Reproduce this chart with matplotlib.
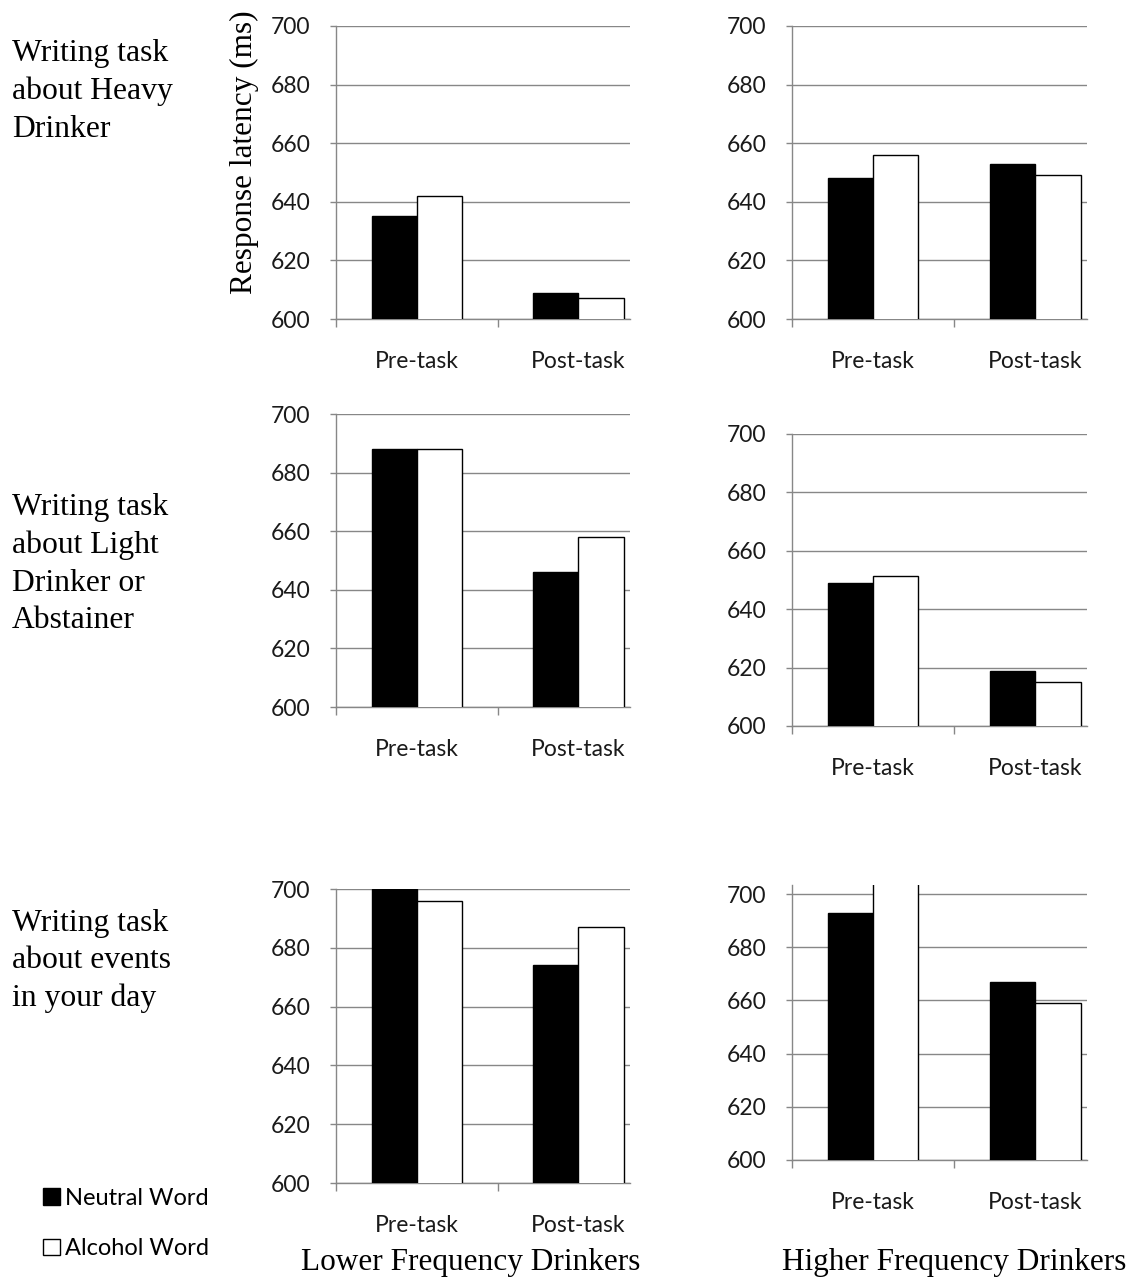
import matplotlib.pyplot as plt
import numpy as np

W, H = 1138, 1277

tasks = ["Pre-task", "Post-task"]
row_labels = [
    "Writing task\nabout Heavy\nDrinker",
    "Writing task\nabout Light\nDrinker or\nAbstainer",
    "Writing task\nabout events\nin your day",
]
yticks = [600, 620, 640, 660, 680, 700]

# rows: heavy drinker, light drinker / abstainer, events in your day
lower_neutral = [[635, 609], [688, 646], [700, 674]]
lower_alcohol = [[642, 607], [688, 658], [696, 687]]
higher_neutral = [[648, 653], [649, 619], [693, 667]]
higher_alcohol = [[656, 649], [651.5, 615], [712, 659]]

grey = "#878787"
sans = "Lato"
serif = "Liberation Serif"

fig = plt.figure(figsize=(W / 100, H / 100), dpi=100)


def add_panel(left, top, bottom, right, neutral, alcohol, ymax=700):
    ax = fig.add_axes([left / W, 1 - bottom / H, (right - left) / W, (bottom - top) / H])
    x = np.arange(len(tasks))
    b1 = ax.bar(x - 0.14, neutral, 0.28, color="black", edgecolor="black",
                linewidth=1.0, zorder=3)
    b2 = ax.bar(x + 0.14, alcohol, 0.28, color="white", edgecolor="black",
                linewidth=1.0, zorder=3)
    ax.set_ylim(600, ymax)
    ax.set_xlim(-0.5, 1.32)
    ax.set_yticks(yticks)
    ax.set_yticklabels([str(v) for v in yticks], fontfamily=sans, fontsize=16.5, color="#1a1a1a")
    ax.yaxis.grid(True, color=grey, linewidth=1.0, zorder=0)
    ax.set_axisbelow(True)
    ax.set_xticks(x)
    ax.set_xticklabels(tasks, fontfamily=sans, fontsize=16.5, color="#1a1a1a")
    ax.set_xticks([-0.5, 0.5], minor=True)
    ax.tick_params(axis="x", which="major", length=0, pad=23)
    ax.tick_params(axis="x", which="minor", length=6, width=1.0, color=grey, direction="out")
    ax.tick_params(axis="y", length=4.5, width=1.0, color=grey, pad=14)
    for side in ["top", "right"]:
        ax.spines[side].set_visible(False)
    for side in ["left", "bottom"]:
        ax.spines[side].set_color(grey)
        ax.spines[side].set_linewidth(1.0)
    return ax, b1, b2


ax_tl, bar_n, bar_a = add_panel(336, 26, 319, 630, lower_neutral[0], lower_alcohol[0])
add_panel(792, 26, 319, 1087, higher_neutral[0], higher_alcohol[0])
add_panel(336, 414, 707, 630, lower_neutral[1], lower_alcohol[1])
add_panel(792, 434, 726, 1087, higher_neutral[1], higher_alcohol[1])
add_panel(336, 889, 1183, 630, lower_neutral[2], lower_alcohol[2])
add_panel(792, 884.7, 1160, 1087, higher_neutral[2], higher_alcohol[2], ymax=703.5)

# row descriptions
for label, yc in zip(row_labels, [91.5, 564, 961]):
    fig.text(12 / W, 1 - yc / H, label, fontfamily=serif, fontsize=22.8,
             ha="left", va="center", linespacing=1.38)

fig.text(244 / W, 1 - 152 / H, "Response latency (ms)", rotation=90, fontfamily=serif,
         fontsize=22.5, ha="center", va="center")

fig.text(471 / W, 1 - 1270 / H, "Lower Frequency Drinkers", fontfamily=serif, fontsize=22.5,
         ha="center", va="baseline")
fig.text(954 / W, 1 - 1270 / H, "Higher Frequency Drinkers", fontfamily=serif, fontsize=22.5,
         ha="center", va="baseline")

fig.legend([bar_n, bar_a], ["Neutral Word", "Alcohol Word"], loc="center left",
           bbox_to_anchor=(43 / W, 1 - 1223.5 / H), frameon=False,
           prop={"family": sans, "size": 17}, handlelength=0.7, handleheight=0.7,
           handletextpad=0.25, labelspacing=1.25, borderpad=0, borderaxespad=0)

plt.savefig("out.png", dpi=100)
